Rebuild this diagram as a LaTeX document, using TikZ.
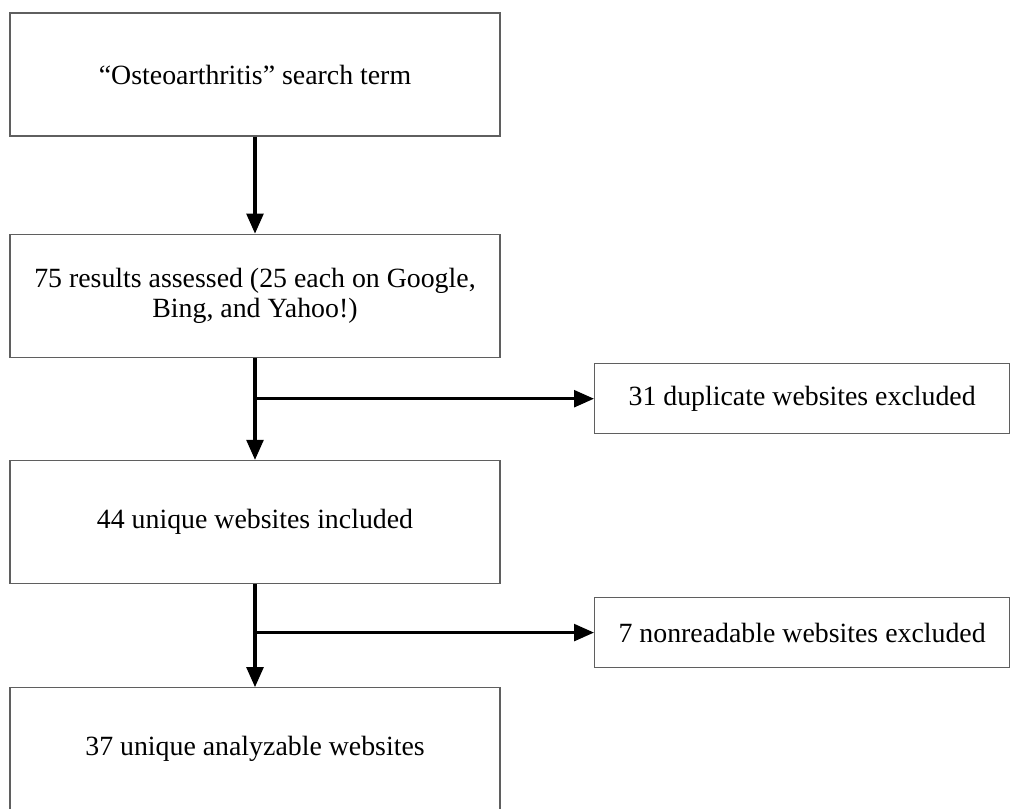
\documentclass[tikz,border=0pt]{standalone}
\usepackage{fontspec}
\setmainfont{Liberation Serif}
\usepackage{tikz}
\usetikzlibrary{arrows.meta,positioning,calc}
\definecolor{boxgray}{RGB}{95,95,95}
\tikzset{
  stage/.style={draw=boxgray,line width=0.9pt,fill=white,
                minimum width=12.25cm,minimum height=3.075cm,
                align=center,font=\fontsize{19.8}{21.5}\selectfont},
  excl/.style={stage,minimum width=10.375cm,minimum height=1.75cm},
  flow/.style={-{Triangle[length=0.5cm,width=0.42cm]},line width=2.2pt,black},
}
\begin{document}
\begin{tikzpicture}
  \useasboundingbox (0,0) rectangle (25.325,-20.2);
  % Main column
  \node[stage](term) at (6.375,-1.8625){``Osteoarthritis'' search term};
  \node[stage,below=2.425cm of term](res){75 results assessed (25 each on Google,\\Bing, and Yahoo!)};
  \node[stage,below=2.55cm of res](uniq){44 unique websites included};
  \node[stage,below=2.575cm of uniq](anl){37 unique analyzable websites};
  % Branch points
  \coordinate (j1) at ($(res.south)!0.4!(uniq.north)$);
  \coordinate (j2) at ($(uniq.south)!0.47!(anl.north)$);
  % Exclusions
  \node[excl,right=8.475cm of j1](dup){31 duplicate websites excluded};
  \node[excl,right=8.475cm of j2](nonr){7 nonreadable websites excluded};

  % Arrows
  \draw[flow](term.south)--(res.north);
  \draw[flow](res.south)--(uniq.north);
  \draw[flow](j1)--(dup.west);
  \draw[flow](uniq.south)--(anl.north);
  \draw[flow](j2)--(nonr.west);
\end{tikzpicture}
\end{document}
